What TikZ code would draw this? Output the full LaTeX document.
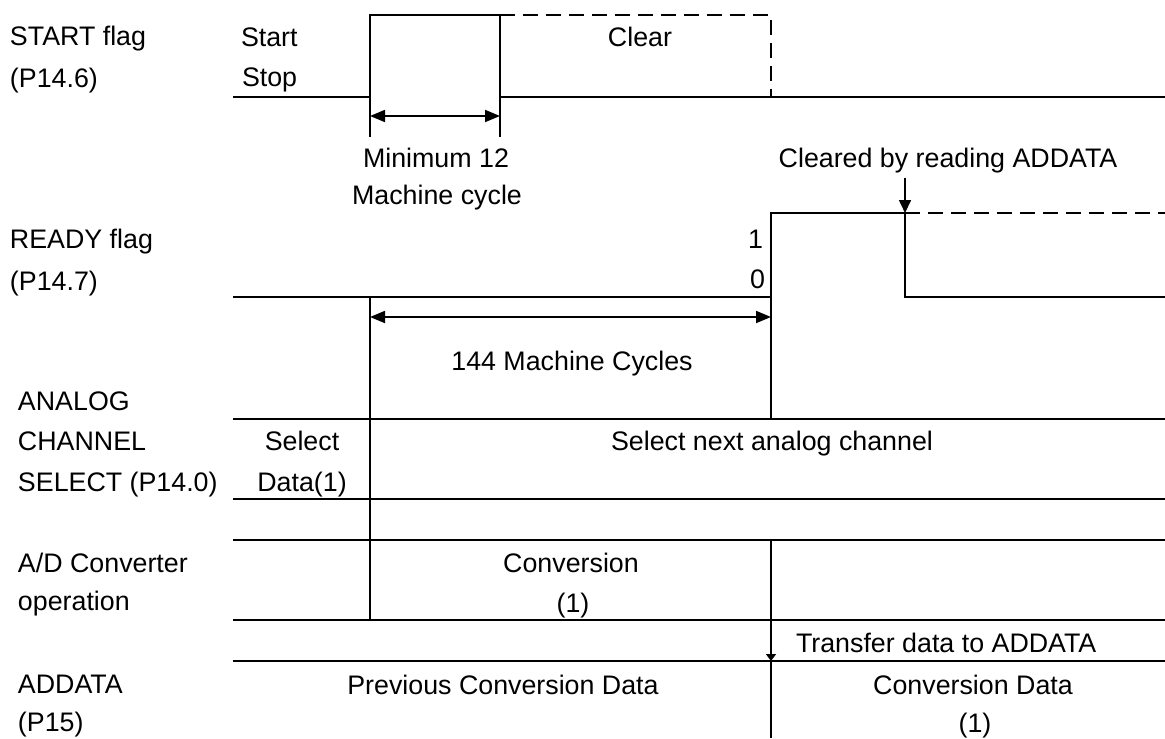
\documentclass[tikz,border=0pt]{standalone}
\usepackage{fontspec}
\setmainfont{Liberation Sans}
\usetikzlibrary{arrows.meta}

\begin{document}
\begin{tikzpicture}[x=0.5pt,y=-0.5pt,line width=1pt,
        every node/.style={inner sep=0pt,font=\fontsize{13.4}{16}\selectfont},
        lbl/.style={anchor=base west},
        mid/.style={anchor=base},
        thinline/.style={line width=0.7pt},
        dashline/.style={dash pattern=on 7.5pt off 4pt},
        dimarrow/.style={line width=0.9pt,{Triangle[length=7.5pt,width=6pt]}-{Triangle[length=7.5pt,width=6pt]}},
        ptr/.style={line width=0.8pt,-{Triangle[length=6.5pt,width=6pt]}},
        smallptr/.style={line width=0.7pt,-{Triangle[length=3.5pt,width=5pt]}}]
        \useasboundingbox (0,0) rectangle (1165,738);
        %\draw[step=50,gray,very thin] (0,0) grid (1165,738);

        % time marks
        \coordinate (t0) at (370,0);
        \coordinate (t1) at (500,0);
        \coordinate (t2) at (771,0);
        \coordinate (t3) at (905,0);

        % START flag
        \node[lbl] (startflag) at (9,46) {START flag};
        \node[lbl] (startpin) at (9,88) {(P14.6)};
        \node[lbl] (startlvl) at (240,47) {Start};
        \node[lbl] (stoplvl) at (241,87) {Stop};
        \draw (233,97) -- (t0 |- 0,97) -- (t0 |- 0,15) -- (t1 |- 0,15) -- (t1 |- 0,97) -- (1165,97);
        \draw[dashline] (t1 |- 0,15) -- (t2 |- 0,15) -- (t2 |- 0,97);
        \node[mid] (clear) at (640,47) {Clear};
        \draw[thinline] (t0 |- 0,97) -- (t0 |- 0,137);
        \draw[thinline] (t1 |- 0,97) -- (t1 |- 0,137);
        \coordinate (minl) at (t0 |- 0,116);
        \coordinate (minr) at (t1 |- 0,116);
        \draw[dimarrow] (minl) -- (minr);
        \node[mid] (min1) at (436,167) {Minimum 12};
        \node[mid] (min2) at (437,204) {Machine cycle};

        % READY flag
        \node[mid] (cleared) at (948,167) {Cleared by reading ADDATA};
        \coordinate (clrtop) at (t3 |- 0,178);
        \coordinate (clrtip) at (t3 |- 0,213);
        \draw[ptr] (clrtop) -- (clrtip);
        \node[lbl] (readyflag) at (9,248) {READY flag};
        \node[lbl] (readypin) at (9,290) {(P14.7)};
        \node[anchor=base east] (one) at (764,248) {1};
        \node[anchor=base east] (zero) at (766,288) {0};
        \draw (233,297) -- (t2 |- 0,297) -- (t2 |- 0,213) -- (t3 |- 0,213) -- (t3 |- 0,297) -- (1165,297);
        \draw[dashline] (t3 |- 0,213) -- (1165,213);
        \draw[thinline] (t0 |- 0,297) -- (t0 |- 0,620);
        \draw[thinline] (t2 |- 0,297) -- (t2 |- 0,419);
        \coordinate (cyl) at (t0 |- 0,317);
        \coordinate (cyr) at (t2 |- 0,317);
        \draw[dimarrow] (cyl) -- (cyr);
        \node[mid] (cycles) at (572,370) {144 Machine Cycles};

        % ANALOG CHANNEL SELECT
        \node[lbl] (ana1) at (17,410) {ANALOG};
        \node[lbl] (ana2) at (17,450) {CHANNEL};
        \node[lbl] (ana3) at (17,491) {SELECT (P14.0)};
        \draw (233,419) -- (1165,419);
        \draw[thinline] (233,499) -- (1165,499);
        \node[mid] (sel1) at (302,450) {Select};
        \node[mid] (sel2) at (302,491) {Data(1)};
        \node[mid] (selnext) at (772,450) {Select next analog channel};

        % A/D Converter operation
        \node[lbl] (adc1) at (17,572) {A/D Converter};
        \node[lbl] (adc2) at (17,610) {operation};
        \draw (233,540) -- (1165,540);
        \draw[thinline] (233,620) -- (1165,620);
        \node[mid] (conv1) at (571,572) {Conversion};
        \node[mid] (conv2) at (573,612) {(1)};

        % ADDATA
        \draw[thinline] (t2 |- 0,540) -- (t2 |- 0,738);
        \coordinate (xfrtop) at (t2 |- 0,640);
        \coordinate (xfrtip) at (t2 |- 0,661);
        \draw[smallptr] (xfrtop) -- (xfrtip);
        \node[lbl] (xfer) at (795,652) {Transfer data to ADDATA};
        \draw (233,661) -- (1165,661);
        \node[lbl] (addata1) at (17,693) {ADDATA};
        \node[lbl] (addata2) at (17,731) {(P15)};
        \node[mid] (prevdata) at (503,694) {Previous Conversion Data};
        \node[mid] (newdata1) at (973,694) {Conversion Data};
        \node[mid] (newdata2) at (975,732) {(1)};
\end{tikzpicture}
\end{document}
